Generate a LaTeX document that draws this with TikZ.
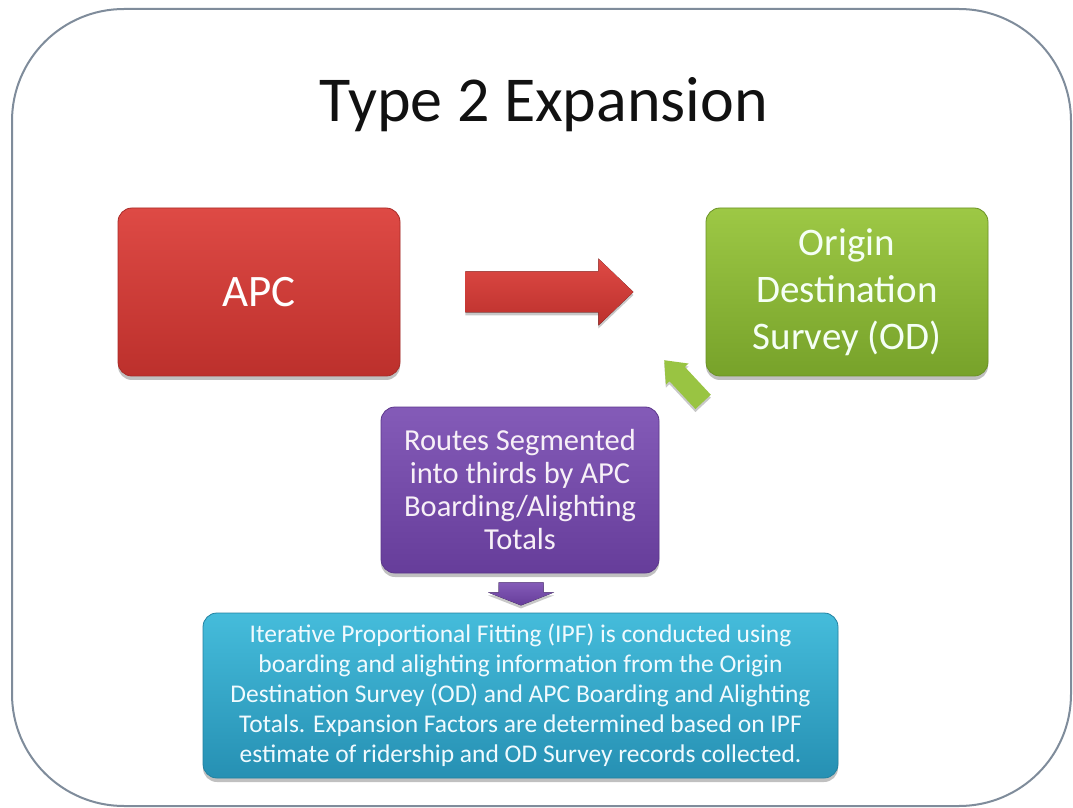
\documentclass[tikz,border=0pt]{standalone}
\usepackage{fontspec}
\setmainfont{Carlito}
\usetikzlibrary{calc,shadows}
\definecolor{framec}{HTML}{7F8C9B}
\definecolor{redT}{HTML}{DE4A45}
\definecolor{redB}{HTML}{BC302C}
\definecolor{grnT}{HTML}{9DC845}
\definecolor{grnB}{HTML}{77A22A}
\definecolor{purT}{HTML}{845BB8}
\definecolor{purB}{HTML}{663D9A}
\definecolor{cyaT}{HTML}{45BCDB}
\definecolor{cyaB}{HTML}{2690B3}
\definecolor{titlec}{HTML}{111111}
\newcommand\blockarrow[7]{%
  \fill[#7,shift={#1},rotate=#2] (0,{-#4}) -- ({#3-#6},{-#4}) -- ({#3-#6},{-#5}) -- (#3,0)
    -- ({#3-#6},#5) -- ({#3-#6},#4) -- (0,#4) -- cycle;}
\begin{document}
\begin{tikzpicture}[x=1pt,y=1pt,
  frame/.style={draw=framec,line width=2pt,rounded corners=112pt},
  box/.style={rounded corners=14pt,align=center,inner sep=4pt,
    drop shadow={shadow xshift=0pt,shadow yshift=-4pt,opacity=0.35,fill=black!70}},
  redbox/.style={box,top color=redT,bottom color=redB,draw=redB!90!black,line width=0.8pt,text=white},
  grnbox/.style={box,top color=grnT,bottom color=grnB,draw=grnB!90!black,line width=0.8pt,text=green!4!white},
  purbox/.style={box,top color=purT,bottom color=purB,draw=purB!90!black,line width=0.8pt,text=violet!6!white},
  cyabox/.style={box,top color=cyaT,bottom color=cyaB,draw=cyaB!90!black,line width=0.8pt,text=cyan!6!white},
  arrowshadow/.style={drop shadow={shadow xshift=0pt,shadow yshift=-3pt,opacity=0.3,fill=black!70}},
  redarrow/.style={top color=redT,bottom color=redB,arrowshadow},
  grnarrow/.style={fill=grnT!90!grnB,arrowshadow},
  purarrow/.style={top color=purT,bottom color=purB,arrowshadow},
  title/.style={text=titlec,font=\fontsize{64}{76}\selectfont,anchor=base}
]
\useasboundingbox (0,0) rectangle (1073,807);
\fill[white] (0,0) rectangle (1073,807);
\draw[frame] (12,1) rectangle (1071,798);

\node[title] (title) at (544,685) {Type 2 Expansion};

\node[redbox,minimum width=282pt,minimum height=168pt,font=\fontsize{45}{54}\selectfont] (apc) at (259,515)
  {APC};
\node[grnbox,minimum width=282pt,minimum height=168pt,font=\fontsize{39}{47}\selectfont] (od) at (847,515)
  {Origin\\Destination\\Survey (OD)};
\node[purbox,minimum width=278pt,minimum height=166pt,font=\fontsize{30.5}{33}\selectfont] (rt) at (520,317)
  {Routes Segmented\\into thirds by APC\\Boarding/Alighting\\Totals};
\node[cyabox,minimum width=635pt,minimum height=165pt,font=\fontsize{25.5}{30}\selectfont] (ipf) at (520.5,111.5)
  {Iterative Proportional Fitting (IPF) is conducted using\\
   boarding and alighting information from the Origin\\
   Destination Survey (OD) and APC Boarding and Alighting\\
   Totals.  Expansion Factors are determined based on IPF\\
   estimate of ridership and OD Survey records collected.};

% block arrows between the nodes
\blockarrow{($(apc.east)+(65,0)$)}{0}{168}{20.5}{33.5}{35}{redarrow}
\blockarrow{($(od.south west)+(-2.5,-25.5)$)}{133}{57}{10.5}{15.5}{19}{grnarrow}
\blockarrow{($(rt.south)+(1,-9)$)}{-90}{23}{22.5}{33}{13}{purarrow}
\end{tikzpicture}
\end{document}
